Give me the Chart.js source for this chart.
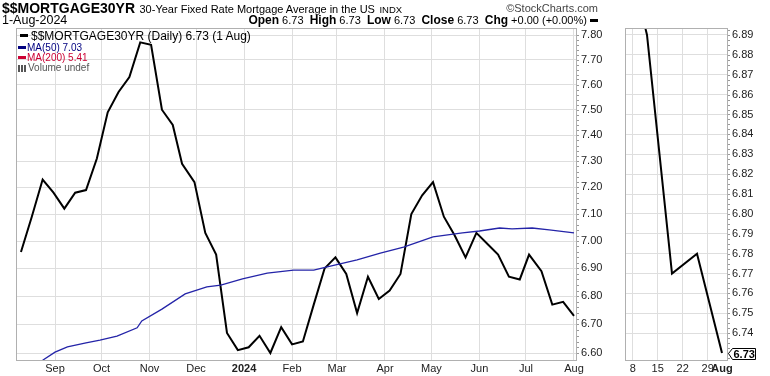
<!DOCTYPE html>
<html>
<head>
<meta charset="utf-8">
<script src="https://cdn.jsdelivr.net/npm/chart.js@4.4.1/dist/chart.umd.min.js"></script>
<style>
  body { margin: 0; background: #fff; font-family: 'Liberation Sans', Arial, sans-serif; }
  #wrap { position: relative; width: 770px; height: 376px; overflow: hidden; background: #fff; }
  canvas { position: absolute; top: 0; }
  #main { left: 0; }
  #zoom { left: 615px; }
  .t { position: absolute; white-space: nowrap; color: #000; }
  .bar { display: inline-block; width: 8px; height: 3px; vertical-align: middle; margin-right: 3px; position: relative; top: -1px; }
</style>
</head>
<body>
<div id="wrap">
  <canvas id="main" width="615" height="376"></canvas>
  <canvas id="zoom" width="155" height="376"></canvas>

  <div class="t" style="left:2px; top:0; line-height:16px;">
    <b style="font-size:14px;">$$MORTGAGE30YR</b>
    <span style="font-size:11px;">30-Year Fixed Rate Mortgage Average in the US</span>
    <span style="font-size:9.5px;">INDX</span>
  </div>
  <div class="t" style="right:172px; top:1px; font-size:11px; color:#444; line-height:14px;">&#169;StockCharts.com</div>
  <div class="t" style="left:2px; top:14px; font-size:12.5px; line-height:13px;">1-Aug-2024</div>
  <div class="t" style="right:172px; top:14px; font-size:11px; line-height:13px;">
    <b style="font-size:12px;">Open</b> 6.73&nbsp; <b style="font-size:12px;">High</b> 6.73&nbsp; <b style="font-size:12px;">Low</b> 6.73&nbsp; <b style="font-size:12px;">Close</b> 6.73&nbsp; <b style="font-size:12px;">Chg</b> +0.00 (+0.00%) <span class="bar" style="background:#000;margin:0;"></span>
  </div>

  <div class="t" style="left:20px; top:30px; font-size:12px; line-height:13px;"><span class="bar" style="background:#000;"></span>$$MORTGAGE30YR (Daily) 6.73 (1 Aug)</div>
  <div class="t" style="left:18px; top:42px; font-size:10px; line-height:12px; color:#000080;"><span class="bar" style="background:#000080;margin-right:1px;"></span>MA(50) 7.03</div>
  <div class="t" style="left:18px; top:52px; font-size:10px; line-height:12px; color:#cc0033;"><span class="bar" style="background:#cc0033;margin-right:1px;"></span>MA(200) 5.41</div>
  <div class="t" style="left:18px; top:62px; font-size:10px; line-height:12px; color:#555;"><span style="display:inline-block;width:9px;height:7px;vertical-align:middle;background:linear-gradient(90deg,#555 0 2px,#fff 2px 3px,#555 3px 5px,#fff 5px 6px,#555 6px 8px,#fff 8px);margin-right:1px;"></span>Volume undef</div>
</div>

<script>
// weekly rates (Thursdays)
const rateDates = [
  '2023-08-10', '2023-08-17', '2023-08-24', '2023-08-31', '2023-09-07', '2023-09-14', '2023-09-21', '2023-09-28',
  '2023-10-05', '2023-10-12', '2023-10-19', '2023-10-26', '2023-11-02', '2023-11-09', '2023-11-16', '2023-11-22',
  '2023-11-30', '2023-12-07', '2023-12-14', '2023-12-21', '2023-12-28', '2024-01-04', '2024-01-11', '2024-01-18',
  '2024-01-25', '2024-02-01', '2024-02-08', '2024-02-15', '2024-02-22', '2024-02-29', '2024-03-07', '2024-03-14',
  '2024-03-21', '2024-03-28', '2024-04-04', '2024-04-11', '2024-04-18', '2024-04-25', '2024-05-02', '2024-05-09',
  '2024-05-16', '2024-05-23', '2024-05-30', '2024-06-06', '2024-06-13', '2024-06-20', '2024-06-27', '2024-07-03',
  '2024-07-11', '2024-07-18', '2024-07-25', '2024-08-01'
];
const rates = [
  6.96, 7.09, 7.23, 7.18, 7.12, 7.18, 7.19, 7.31,
  7.49, 7.57, 7.63, 7.77, 7.76, 7.50, 7.44, 7.29,
  7.22, 7.03, 6.95, 6.67, 6.61, 6.62, 6.66, 6.60,
  6.69, 6.63, 6.64, 6.77, 6.90, 6.94, 6.88, 6.74,
  6.87, 6.79, 6.82, 6.88, 7.10, 7.17, 7.22, 7.09,
  7.02, 6.94, 7.03, 6.99, 6.95, 6.87, 6.86, 6.95,
  6.89, 6.77, 6.78, 6.73
];

// 50-day moving average
const maDates = [
  '2023-08-24', '2023-09-01', '2023-09-09', '2023-09-21', '2023-09-30', '2023-10-11', '2023-10-24', '2023-10-27',
  '2023-11-09', '2023-11-24', '2023-12-08', '2023-12-17', '2023-12-31', '2024-01-16', '2024-02-02', '2024-02-15',
  '2024-02-23', '2024-03-14', '2024-03-29', '2024-04-13', '2024-05-02', '2024-05-21', '2024-06-01', '2024-06-14',
  '2024-06-22', '2024-07-05', '2024-07-16', '2024-08-01'
];
const maValues = [
  6.575, 6.603, 6.621, 6.635, 6.645, 6.659, 6.688, 6.712,
  6.754, 6.808, 6.833, 6.840, 6.862, 6.883, 6.894, 6.894,
  6.905, 6.931, 6.956, 6.978, 7.015, 7.030, 7.037, 7.048,
  7.045, 7.048, 7.041, 7.030
];

const monthDates = ['2023-09-01', '2023-10-01', '2023-11-01', '2023-12-01', '2024-01-01', '2024-02-01',
  '2024-03-01', '2024-04-01', '2024-05-01', '2024-06-01', '2024-07-01', '2024-08-01'];
const monthLabels = ['Sep', 'Oct', 'Nov', 'Dec', '2024', 'Feb', 'Mar', 'Apr', 'May', 'Jun', 'Jul', 'Aug'];
const yTicks = [6.6, 6.7, 6.8, 6.9, 7.0, 7.1, 7.2, 7.3, 7.4, 7.5, 7.6, 7.7, 7.8];

// zoom panel (last month)
const zoomStart = '2024-07-03';
const weekDates = ['2024-07-07', '2024-07-14', '2024-07-21', '2024-07-28', '2024-08-01'];
const weekLabels = ['8', '15', '22', '29', 'Aug'];
const zoomTicks = [6.74, 6.75, 6.76, 6.77, 6.78, 6.79, 6.80, 6.81, 6.82, 6.83, 6.84, 6.85, 6.86, 6.87, 6.88, 6.89];
const lastClose = 6.73;

const base = Date.UTC(2023, 7, 1);
const day = s => (Date.parse(s) - base) / 864e5;

const FONT = "'Liberation Sans', Arial, sans-serif";
const GRID = '#dedede';
const FRAME = '#b0b0b0';

const rateData = rateDates.map((d, i) => ({ x: day(d), y: rates[i] }));
const maData = maDates.map((d, i) => ({ x: day(d), y: maValues[i] }));

const monthMap = {};
monthDates.forEach((d, i) => monthMap[day(d)] = monthLabels[i]);
const weekMap = {};
weekDates.forEach((d, i) => weekMap[day(d)] = weekLabels[i]);

// frame round the plot + small minor ticks on the price axis
function framePlugin(minorStep, lo, hi) {
    return {
        id: 'frame',
        afterDraw(chart) {
            const a = chart.chartArea;
            const c = chart.ctx;
            c.save();
            c.strokeStyle = FRAME;
            c.lineWidth = 1;
            c.strokeRect(Math.round(a.left) + 0.5, Math.round(a.top) + 0.5,
                Math.round(a.right - a.left), Math.round(a.bottom - a.top));
            const y = chart.scales.y;
            c.strokeStyle = '#999';
            c.beginPath();
            for (let v = lo; v <= hi + 1e-9; v += minorStep) {
                const py = Math.round(y.getPixelForValue(v)) + 0.5;
                if (py < a.top || py > a.bottom) continue;
                c.moveTo(a.right + 1, py);
                c.lineTo(a.right + 3, py);
            }
            c.stroke();
            c.restore();
        }
    };
}

new Chart(document.getElementById('main'), {
    type: 'line',
    data: {
        datasets: [
            {
                data: maData,
                borderColor: '#2424a8',
                borderWidth: 1.3,
                pointRadius: 0,
                tension: 0
            },
            {
                data: rateData,
                borderColor: '#000',
                borderWidth: 2,
                pointRadius: 0,
                tension: 0
            }
        ]
    },
    options: {
        responsive: false,
        animation: false,
        layout: { padding: { left: 16, top: 28, right: 0, bottom: 0 } },
        plugins: { legend: { display: false }, tooltip: { enabled: false } },
        scales: {
            x: {
                type: 'linear',
                min: 5.8,
                max: 367.3,
                afterBuildTicks: s => { s.ticks = monthDates.map(d => ({ value: day(d) })); },
                afterFit: s => { s.height = 16; },
                grid: { color: GRID, drawTicks: false },
                border: { display: false },
                ticks: {
                    autoSkip: false,
                    maxRotation: 0,
                    padding: 2,
                    color: '#222',
                    font: c => ({ family: FONT, size: 11, weight: (c.tick && c.tick.label === '2024') ? 'bold' : 'normal' }),
                    callback: v => monthMap[v] || ''
                }
            },
            y: {
                type: 'logarithmic',
                position: 'right',
                min: 6.5758,
                max: 7.829,
                afterBuildTicks: s => { s.ticks = yTicks.map(v => ({ value: v })); },
                afterFit: s => { s.width = 39; },
                grid: { color: GRID, drawTicks: false },
                border: { display: false },
                ticks: {
                    padding: 5,
                    color: '#222',
                    font: { family: FONT, size: 11 },
                    callback: v => Number(v).toFixed(2)
                }
            }
        }
    },
    plugins: [framePlugin(0.02, 6.6, 7.8)]
});

const zoomData = rateData.filter(p => p.x >= day(zoomStart));

new Chart(document.getElementById('zoom'), {
    type: 'line',
    data: {
        datasets: [{
            data: zoomData,
            borderColor: '#000',
            borderWidth: 2,
            pointRadius: 0,
            tension: 0
        }]
    },
    options: {
        responsive: false,
        animation: false,
        layout: { padding: { left: 10, top: 28, right: 0, bottom: 0 } },
        plugins: { legend: { display: false }, tooltip: { enabled: false } },
        scales: {
            x: {
                type: 'linear',
                min: day('2024-07-11') - 6.16,
                max: day('2024-08-01') + 1.4,
                afterBuildTicks: s => { s.ticks = weekDates.map(d => ({ value: day(d) })); },
                afterFit: s => { s.height = 16; },
                grid: { color: c => (c.tick && c.tick.label === 'Aug') ? 'rgba(0,0,0,0)' : GRID, drawTicks: false },
                border: { display: false },
                ticks: {
                    autoSkip: false,
                    maxRotation: 0,
                    padding: 2,
                    color: '#222',
                    font: c => ({ family: FONT, size: 11, weight: (c.tick && c.tick.label === 'Aug') ? 'bold' : 'normal' }),
                    callback: v => weekMap[v] || ''
                }
            },
            y: {
                type: 'linear',
                position: 'right',
                min: 6.7265,
                max: 6.8935,
                afterBuildTicks: s => { s.ticks = zoomTicks.map(v => ({ value: v })); },
                afterFit: s => { s.width = 43; },
                grid: { color: GRID, drawTicks: false },
                border: { display: false },
                ticks: {
                    padding: 5,
                    color: '#222',
                    font: { family: FONT, size: 11 },
                    callback: v => Number(v).toFixed(2)
                }
            }
        }
    },
    plugins: [
        framePlugin(0.0025, 6.7275, 6.8925),
        {
            // last close tag on the price axis
            id: 'priceTag',
            afterDraw(chart) {
                const c = chart.ctx;
                const x0 = Math.round(chart.chartArea.right) + 0.5;
                const y = Math.round(chart.scales.y.getPixelForValue(lastClose)) + 0.5;
                c.save();
                c.beginPath();
                c.moveTo(x0 + 1, y);
                c.lineTo(x0 + 5, y - 5);
                c.lineTo(x0 + 28, y - 5);
                c.lineTo(x0 + 28, y + 6);
                c.lineTo(x0 + 5, y + 6);
                c.closePath();
                c.fillStyle = '#fff';
                c.fill();
                c.strokeStyle = '#000';
                c.lineWidth = 1;
                c.stroke();
                c.fillStyle = '#000';
                c.font = 'bold 11px ' + FONT;
                c.textBaseline = 'middle';
                c.fillText(lastClose.toFixed(2), x0 + 6, y + 1);
                c.restore();
            }
        }
    ]
});
</script>
</body>
</html>
